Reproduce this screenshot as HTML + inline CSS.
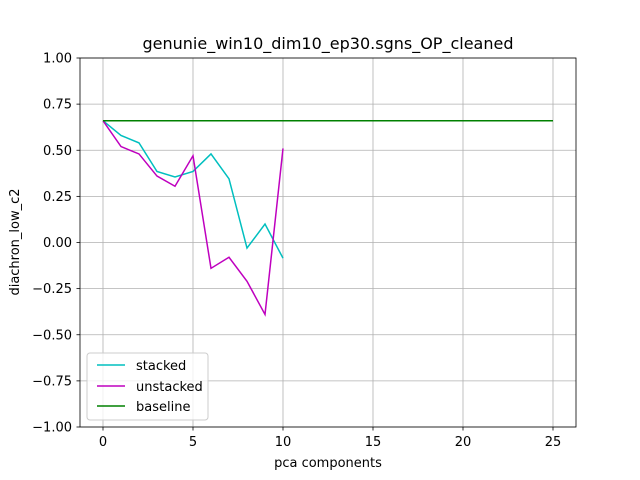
<!DOCTYPE html>
<html><head><meta charset="utf-8"><style>
body{margin:0;background:#fff;}
svg{display:block;font-family:"DejaVu Sans","Liberation Sans",sans-serif;}
</style></head><body>
<svg id="chart" width="640" height="480" xmlns="http://www.w3.org/2000/svg">
<rect width="640" height="480" fill="#fff"/>
<g id="grid"></g>
<g id="lines"></g>
<rect x="80" y="58" width="496" height="369" fill="none" stroke="#000" stroke-width="0.8"/>
<g id="ticks"></g>
<text x="328" y="49" text-anchor="middle" font-size="16">genunie_win10_dim10_ep30.sgns_OP_cleaned</text>
<text x="328" y="467" text-anchor="middle" font-size="13">pca components</text>
<text x="19" y="242" text-anchor="middle" font-size="13" transform="rotate(-90 19 242)">diachron_low_c2</text>
<g>
<rect x="87" y="353" width="121" height="67" rx="3" fill="#fff" fill-opacity="0.8" stroke="#ccc"/>
<g><line x1="97" y1="365" x2="125" y2="365" stroke="#00bfbf" stroke-width="1.5"/><text x="136" y="370" font-size="13">stacked</text></g>
<g><line x1="97" y1="386" x2="125" y2="386" stroke="#bf00bf" stroke-width="1.5"/><text x="136" y="391" font-size="13">unstacked</text></g>
<g><line x1="97" y1="406" x2="125" y2="406" stroke="#008000" stroke-width="1.5"/><text x="136" y="411" font-size="13">baseline</text></g>
</g>
</svg>
<script>
const stackedX=[0,1,2,3,4,5,6,7,8,9,10];
const stackedY=[0.66,0.58,0.54,0.385,0.355,0.385,0.48,0.345,-0.03,0.1,-0.085];
const unstackedX=[0,1,2,3,4,5,6,7,8,9,10];
const unstackedY=[0.66,0.52,0.48,0.36,0.305,0.47,-0.14,-0.08,-0.21,-0.39,0.51];
const baselineX=[0,25];
const baselineY=[0.66,0.66];
const xTicks=[0,5,10,15,20,25];
const yTicks=[-1.0,-0.75,-0.5,-0.25,0,0.25,0.5,0.75,1.0];
const NS="http://www.w3.org/2000/svg";
function sx(v){return 103+v*18;}
function sy(v){return 242.5-v*184.5;}
function mk(t,a){const e=document.createElementNS(NS,t);for(const k in a)e.setAttribute(k,a[k]);return e;}
const grid=document.getElementById('grid'),ticks=document.getElementById('ticks'),lines=document.getElementById('lines');
xTicks.forEach(v=>{
 const g=mk('line',{x1:sx(v),x2:sx(v),y1:58,y2:427,stroke:'#b0b0b0','stroke-width':0.8});
 
 
 grid.appendChild(g);
 ticks.appendChild(mk('line',{x1:sx(v),x2:sx(v),y1:427,y2:430.5,stroke:'#000','stroke-width':0.8}));
 const t=mk('text',{x:sx(v),y:446,'text-anchor':'middle','font-size':13});
 t.textContent=v;
 
 
 ticks.appendChild(t);
});
yTicks.forEach(v=>{
 const g=mk('line',{x1:80,x2:576,y1:sy(v),y2:sy(v),stroke:'#b0b0b0','stroke-width':0.8});
 
 
 grid.appendChild(g);
 ticks.appendChild(mk('line',{x1:76.5,x2:80,y1:sy(v),y2:sy(v),stroke:'#000','stroke-width':0.8}));
 const t=mk('text',{x:72,y:sy(v)+4.5,'text-anchor':'end','font-size':13});
 t.textContent=v.toFixed(2).replace('-','\u2212');
 
 
 ticks.appendChild(t);
});
function series(xs,ys,color,name){
 const p=mk('polyline',{points:xs.map((x,i)=>sx(x)+','+sy(ys[i])).join(' '),fill:'none',stroke:color,'stroke-width':1.5});
 
 
 lines.appendChild(p);
}
series(stackedX,stackedY,'#00bfbf','stacked-line');
series(unstackedX,unstackedY,'#bf00bf','unstacked-line');
series(baselineX,baselineY,'#008000','baseline-line');
</script>
</body></html>
